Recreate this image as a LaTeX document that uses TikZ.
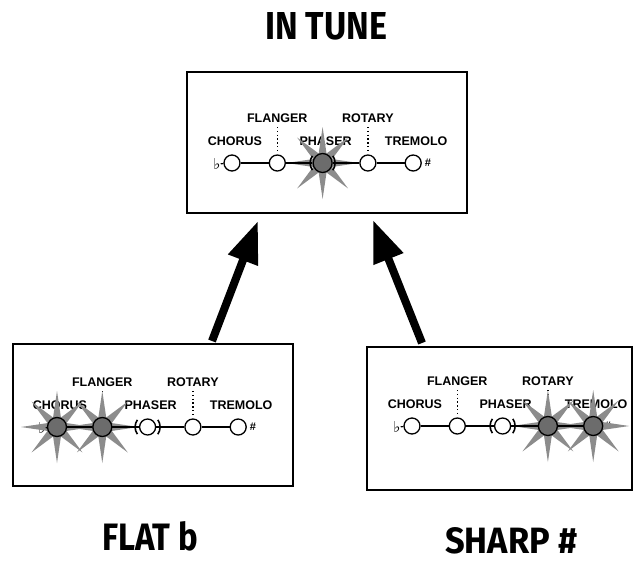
\documentclass[tikz,border=0pt]{standalone}
\usepackage{fontspec}
\usetikzlibrary{arrows.meta}
\newfontfamily\titlefamily{Fira Sans}
\newfontfamily\lblfamily{Liberation Sans}
\newfontfamily\symfamily{DejaVu Sans}
\definecolor{raygray}{RGB}{140,140,140}
\definecolor{ledgray}{RGB}{108,108,108}
\tikzset{
  frame/.style={draw, line width=2.6pt},
  lbl/.style={font={\lblfamily\bfseries\fontsize{12.5}{12.5}\selectfont}, inner sep=0pt, anchor=base},
  ttl/.style={inner sep=0pt, anchor=base west},
  ray/.style={fill=raygray, draw=none},
  led/.style={circle, draw, line width=1.3pt, fill=white, minimum size=16pt, inner sep=0pt},
  litled/.style={circle, draw, line width=1.3pt, fill=ledgray, minimum size=19pt, inner sep=0pt},
  wire/.style={line width=1.2pt},
  dotline/.style={line width=1.4pt, dash pattern=on 1.4pt off 2.4pt},
  bigarrow/.style={line width=8pt, -{Triangle[length=42pt,width=30pt]}},
  flatsign/.style={font={\symfamily\bfseries\fontsize{15}{15}\selectfont}, inner sep=0pt},
  sharpsign/.style={font={\lblfamily\bfseries\fontsize{11}{11}\selectfont}, inner sep=0pt},
}
% rays around a lit LED at x position #1 (panel coordinates)
\newcommand\ledrays[1]{%
  \foreach \a in {0,45,...,315}{%
    \fill[ray, shift={(#1,0)}, rotate=\a] (7,-4.3) -- (36,0) -- (7,4.3) -- cycle;}}
% #1 name, #2 x, #3 y of chorus LED centre, #4..#8 lit flags
\newcommand\ledpanel[8]{%
  \begin{scope}[shift={(#2,#3)}]
    \node[lbl] (#1-chorus) at (3,-18) {CHORUS};
    \node[lbl] (#1-flanger) at (45.3,-41) {FLANGER};
    \node[lbl] (#1-phaser) at (93.6,-18) {PHASER};
    \node[lbl] (#1-rotary) at (135.9,-41) {ROTARY};
    \node[lbl] (#1-tremolo) at (184.2,-18) {TREMOLO};
    \node[flatsign] (#1-flat) at (-15,1) {♭};
    \node[sharpsign] (#1-sharp) at (196,0) {\#};
    \coordinate (#1-d1a) at (45.3,-36);
    \coordinate (#1-d1b) at (45.3,-12);
    \coordinate (#1-d2a) at (135.9,-36);
    \coordinate (#1-d2b) at (135.9,-12);
    \draw[dotline] (#1-d1a) -- (#1-d1b);
    \draw[dotline] (#1-d2a) -- (#1-d2b);
    \ifnum#4=1 \ledrays{0}\fi
    \ifnum#5=1 \ledrays{45.3}\fi
    \ifnum#6=1 \ledrays{90.6}\fi
    \ifnum#7=1 \ledrays{135.9}\fi
    \ifnum#8=1 \ledrays{181.2}\fi
    \ifnum#4=1 \node[litled] (#1-c1) at (0,0) {};\else \node[led] (#1-c1) at (0,0) {};\fi
    \ifnum#5=1 \node[litled] (#1-c2) at (45.3,0) {};\else \node[led] (#1-c2) at (45.3,0) {};\fi
    \ifnum#6=1 \node[litled] (#1-c3) at (90.6,0) {};\else \node[led] (#1-c3) at (90.6,0) {};\fi
    \ifnum#7=1 \node[litled] (#1-c4) at (135.9,0) {};\else \node[led] (#1-c4) at (135.9,0) {};\fi
    \ifnum#8=1 \node[litled] (#1-c5) at (181.2,0) {};\else \node[led] (#1-c5) at (181.2,0) {};\fi
    \draw[wire] (#1-flat) -- (#1-c1);
    \draw[wire] (#1-c1) -- (#1-c2);
    \draw[wire] (#1-c2) -- (#1-c3);
    \draw[wire] (#1-c3) -- (#1-c4);
    \draw[wire] (#1-c4) -- (#1-c5);
    \draw[wire, line width=1.6pt] (#1-c3.center) ++(145:12.5) arc[start angle=145, end angle=215, radius=12.5];
    \draw[wire, line width=1.6pt] (#1-c3.center) ++(-35:12.5) arc[start angle=-35, end angle=35, radius=12.5];
  \end{scope}}
\begin{document}
\begin{tikzpicture}[x=1pt, y=-1pt]
  \path[fill=white, use as bounding box] (0,0) rectangle (634,560);
  % frames
  \draw[frame] (187,72) rectangle (467,213);
  \draw[frame] (13,344) rectangle (293,486);
  \draw[frame] (367,347) rectangle (632,490);
  % panels
  \ledpanel{tp}{232}{163}{0}{0}{1}{0}{0}
  \ledpanel{fl}{57}{427}{1}{1}{0}{0}{0}
  \ledpanel{sh}{412}{426}{0}{0}{0}{1}{1}
  % titles
  \node[ttl] (intune) at (265,39) {\resizebox{122pt}{27pt}{\titlefamily\bfseries IN TUNE}};
  \node[ttl] (flat) at (102,550) {\resizebox{96pt}{29pt}{\titlefamily\bfseries FLAT b}};
  \node[ttl] (sharp) at (445,553) {\resizebox{132pt}{26pt}{\titlefamily\bfseries SHARP \#}};
  % arrows
  \coordinate (a1s) at (212,341);
  \coordinate (a1e) at (258,221);
  \coordinate (a2s) at (422,343);
  \coordinate (a2e) at (373,220);
  \draw[bigarrow] (a1s) -- (a1e);
  \draw[bigarrow] (a2s) -- (a2e);
\end{tikzpicture}
\end{document}
